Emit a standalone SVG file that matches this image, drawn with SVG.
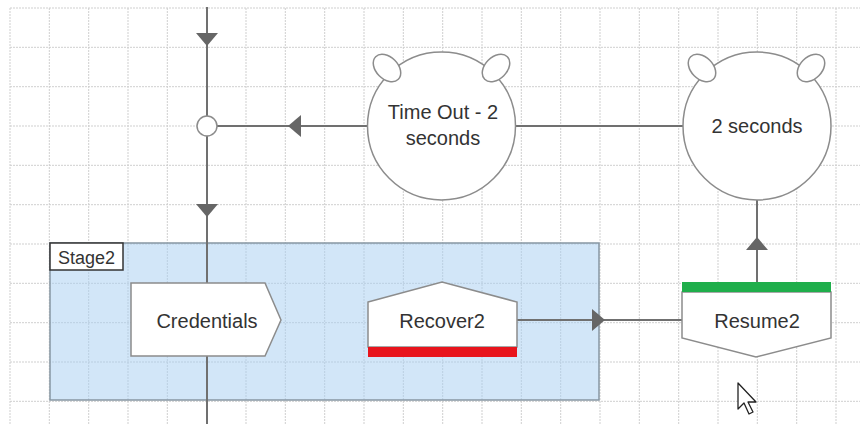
<svg xmlns="http://www.w3.org/2000/svg" xmlns:xlink="http://www.w3.org/1999/xlink" width="860" height="424" viewBox="0 0 860 424">
<style>
.grid{stroke:#cfcfcf;stroke-width:1;stroke-dasharray:2 1;fill:none}
.conn{stroke:#707070;stroke-width:2;fill:none}
.ah{fill:#666}
.node{fill:#fff;stroke:#8c8c8c;stroke-width:1.5}
.t{font-family:"Liberation Sans",Arial,sans-serif;font-size:20px;fill:#333;text-anchor:middle}
</style>
<defs>
<path id="ar" d="M0,0 L-11,-13 L11,-13 Z" class="ah"/>
</defs>
<rect width="860" height="424" fill="#fff"/>
<g id="grid">
<path class="grid" d="M10,8V424M49.3,8V424M88.7,8V424M128,8V424M167.3,8V424M206.7,8V424M246,8V424M285.3,8V424M324.7,8V424M364,8V424M403.3,8V424M442.7,8V424M482,8V424M521.3,8V424M560.7,8V424M600,8V424M639.3,8V424M678.7,8V424M718,8V424M757.3,8V424M796.7,8V424M836,8V424"/>
<path class="grid" d="M10,8H860M10,47.3H860M10,86.7H860M10,126H860M10,165.3H860M10,204.7H860M10,244H860M10,283.3H860M10,322.7H860M10,362H860M10,401.3H860"/>
</g>
<g id="Stage2">
<rect x="50" y="243" width="549" height="157" fill="#a6cdf2" fill-opacity="0.5" stroke="#8796a3" stroke-width="1.5"/>
<rect x="50" y="243" width="73" height="27" fill="#fff" stroke="#333" stroke-width="1.5"/>
<text x="86.5" y="264" class="t" style="font-size:18px">Stage2</text>
</g>
<g id="connectors">
<path class="conn" d="M207,7V424"/>
<path class="conn" d="M217,126H368"/>
<path class="conn" d="M515,126H683"/>
<path class="conn" d="M757,200V282"/>
<path class="conn" d="M517,320H682"/>
<use xlink:href="#ar" transform="translate(207,46)"/>
<use xlink:href="#ar" transform="translate(207,217)"/>
<use xlink:href="#ar" transform="translate(288,126) rotate(90)"/>
<use xlink:href="#ar" transform="translate(605,320) rotate(-90)"/>
<use xlink:href="#ar" transform="translate(757,237) rotate(180)"/>
</g>
<g id="junction">
<circle cx="207" cy="126" r="10" class="node"/>
</g>
<g id="TimeOut">
<circle cx="441.5" cy="126" r="74" class="node"/>
<ellipse cx="387" cy="68" rx="16" ry="11" transform="rotate(45 387 68)" class="node"/>
<ellipse cx="496" cy="68" rx="16" ry="11" transform="rotate(-45 496 68)" class="node"/>
<text x="443" y="119" class="t">Time Out - 2</text>
<text x="443" y="145" class="t">seconds</text>
</g>
<g id="TwoSeconds">
<circle cx="757" cy="126" r="74" class="node"/>
<ellipse cx="702" cy="68" rx="16" ry="11" transform="rotate(45 702 68)" class="node"/>
<ellipse cx="811" cy="68" rx="16" ry="11" transform="rotate(-45 811 68)" class="node"/>
<text x="757" y="133" class="t">2 seconds</text>
</g>
<g id="Credentials">
<path d="M131,283H265L281,320L265,356H131Z" class="node"/>
<text x="207" y="328" class="t">Credentials</text>
</g>
<g id="Recover2">
<path d="M368,302L442,282L517,302V347H368Z" class="node"/>
<rect x="368" y="347" width="149" height="10" fill="#e8141c"/>
<text x="442" y="328" class="t">Recover2</text>
</g>
<g id="Resume2">
<path d="M682,292H831V338L756,357L682,338Z" class="node"/>
<rect x="682" y="282" width="149" height="10" fill="#1fae4b"/>
<text x="757" y="328" class="t">Resume2</text>
</g>
<g id="cursor">
<path d="M738,383V409L744,403L749,414L753,412L748,402H756Z" fill="#fff" stroke="#222" stroke-width="1.3" stroke-linejoin="round"/>
</g>
</svg>
